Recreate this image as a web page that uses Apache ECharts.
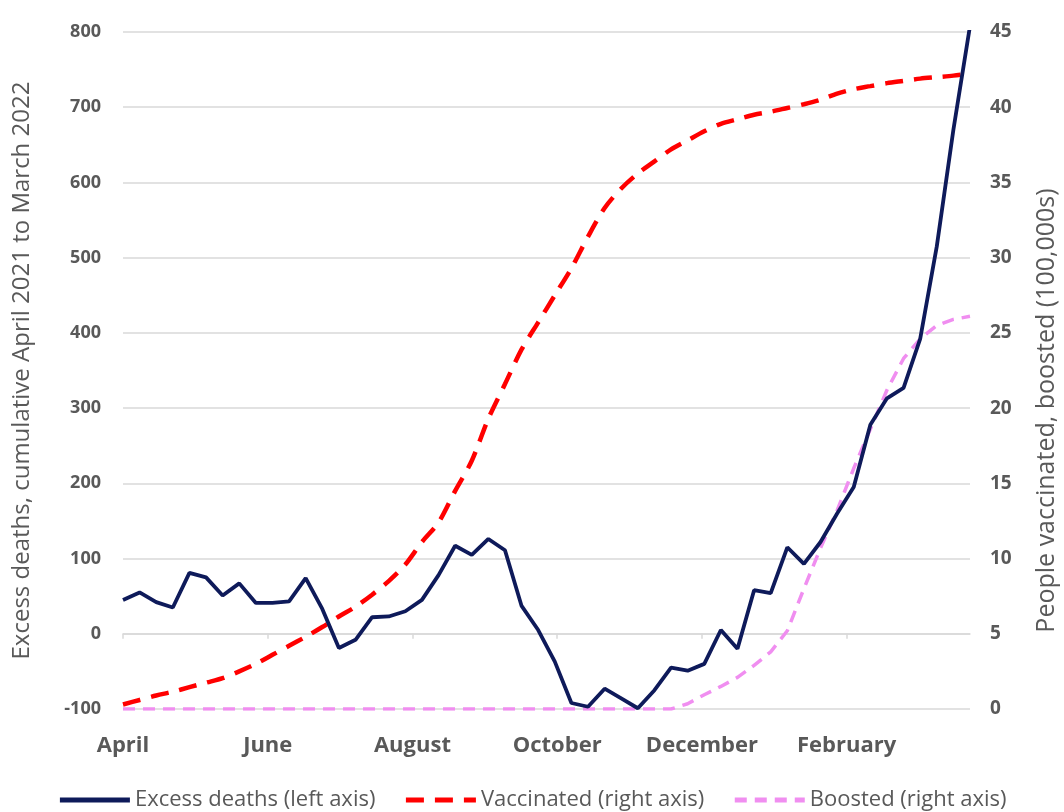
<!DOCTYPE html>
<html>
<head>
<meta charset="utf-8">
<script src="https://cdn.jsdelivr.net/npm/echarts@6/dist/echarts.min.js"></script>
<style>
html,body{margin:0;padding:0;background:#fff;}
#chart{width:1064px;height:812px;}
</style>
</head>
<body>
<div id="chart"></div>
<script>
// Week offsets (days since 1 April 2021)
const weekDays = [0,7,14,21,28,35,42,49,56,63,70,77,84,91,98,105,112,119,126,133,140,147,154,161,168,175,182,189,196,203,210,217,224,231,238,245,252,259,266,273,280,287,294,301,308,315,322,329,336,343,350,357];
// Tick positions (days) and labels
const monthTicks = [0,61,122,183,244,305];
const monthLabels = ['April','June','August','October','December','February'];

const excessDeaths = [45,55,42,35,81,75,51,67,41,41,43,74,33,-19,-8,22,23,30,45,78,117,105,126,111,37,5,-37,-92,-97,-73,-86,-99,-75,-45,-49,-40,5,-20,58,54,115,93,122,160,195,278,313,327,392,515,670,808];
const vaccinated = [0.3,0.6,0.9,1.15,1.45,1.75,2.05,2.5,3.0,3.6,4.2,4.8,5.45,6.15,6.8,7.6,8.5,9.6,11.1,12.4,14.5,16.5,19.3,21.6,23.9,25.7,27.5,29.3,31.4,33.3,34.6,35.6,36.4,37.2,37.8,38.4,38.9,39.2,39.5,39.7,39.95,40.2,40.5,40.9,41.2,41.4,41.6,41.75,41.9,42.0,42.1,42.25];
const boosted = [0,0,0,0,0,0,0,0,0,0,0,0,0,0,0,0,0,0,0,0,0,0,0,0,0,0,0,0,0,0,0,0,0,0,0.35,0.95,1.5,2.1,2.9,3.8,5.2,8.0,10.7,13.2,16.0,18.6,21.2,23.3,24.6,25.5,25.9,26.1];

const pair = (vals) => vals.map((v, i) => [weekDays[i], v]);

const chart = echarts.init(document.getElementById('chart'));
const gray = '#595959';
const fontFam = '"Open Sans", "Noto Sans", sans-serif';
chart.setOption({
  animation: false,
  backgroundColor: '#ffffff',
  grid: {left: 123, right: 94, top: 32, bottom: 103, containLabel: false, outerBoundsMode: 'none'},
  legend: {
    bottom: -4,
    left: 'center',
    itemWidth: 70,
    itemHeight: 14,
    itemGap: 28,
    itemStyle: {opacity: 0},
    lineStyle: {width: 5},
    textStyle: {color: gray, fontSize: 22, fontFamily: fontFam},
    data: ['Excess deaths (left axis)', 'Vaccinated (right axis)', 'Boosted (right axis)']
  },
  xAxis: {
    type: 'value',
    min: 0,
    max: 357,
    interval: 61,
    axisLine: {onZero: true, onZeroAxisIndex: 0, lineStyle: {color: '#d9d9d9', width: 1.5}},
    axisTick: {show: true, length: 5, lineStyle: {color: '#d9d9d9', width: 1.5}},
    splitLine: {show: false},
    axisLabel: {
      margin: 26,
      color: gray,
      fontSize: 22,
      fontWeight: 'bold',
      fontFamily: fontFam,
      showMaxLabel: false,
      formatter: function (v) {
        const i = monthTicks.indexOf(Math.round(v));
        return i >= 0 ? monthLabels[i] : '';
      }
    }
  },
  yAxis: [
    {
      type: 'value',
      min: -100,
      max: 800,
      interval: 100,
      name: 'Excess deaths, cumulative April 2021 to March 2022',
      nameLocation: 'middle',
      nameRotate: 90,
      nameGap: 89,
      nameTextStyle: {color: gray, fontSize: 24, fontFamily: fontFam},
      axisLine: {show: false},
      axisTick: {show: false},
      axisLabel: {margin: 22, color: gray, fontSize: 18, fontWeight: 'bold', fontFamily: fontFam},
      splitLine: {show: true, lineStyle: {color: '#d9d9d9', width: 1.5}}
    },
    {
      type: 'value',
      min: 0,
      max: 45,
      interval: 5,
      position: 'right',
      name: 'People vaccinated, boosted (100,000s)',
      nameLocation: 'middle',
      nameRotate: 90,
      nameGap: 64,
      nameTextStyle: {color: gray, fontSize: 25, fontFamily: fontFam, padding: [0, 80, 0, 0]},
      axisLine: {show: false},
      axisTick: {show: false},
      axisLabel: {margin: 20, color: gray, fontSize: 19, fontWeight: 'bold', fontFamily: fontFam},
      splitLine: {show: false}
    }
  ],
  series: [
    {
      name: 'Boosted (right axis)',
      type: 'line',
      yAxisIndex: 1,
      symbol: 'none',
      data: pair(boosted),
      lineStyle: {color: '#f08ef0', width: 3.5, type: [12, 8]},
      itemStyle: {color: '#f08ef0'},
      z: 2
    },
    {
      name: 'Vaccinated (right axis)',
      type: 'line',
      yAxisIndex: 1,
      symbol: 'none',
      smooth: 0.3,
      data: pair(vaccinated),
      lineStyle: {color: '#ff0000', width: 4.5, type: [18, 11]},
      itemStyle: {color: '#ff0000'},
      z: 3
    },
    {
      name: 'Excess deaths (left axis)',
      type: 'line',
      yAxisIndex: 0,
      symbol: 'none',
      data: pair(excessDeaths),
      lineStyle: {color: '#0e1a5a', width: 3.8},
      itemStyle: {color: '#0e1a5a'},
      z: 4
    }
  ]
});
</script>
</body>
</html>
